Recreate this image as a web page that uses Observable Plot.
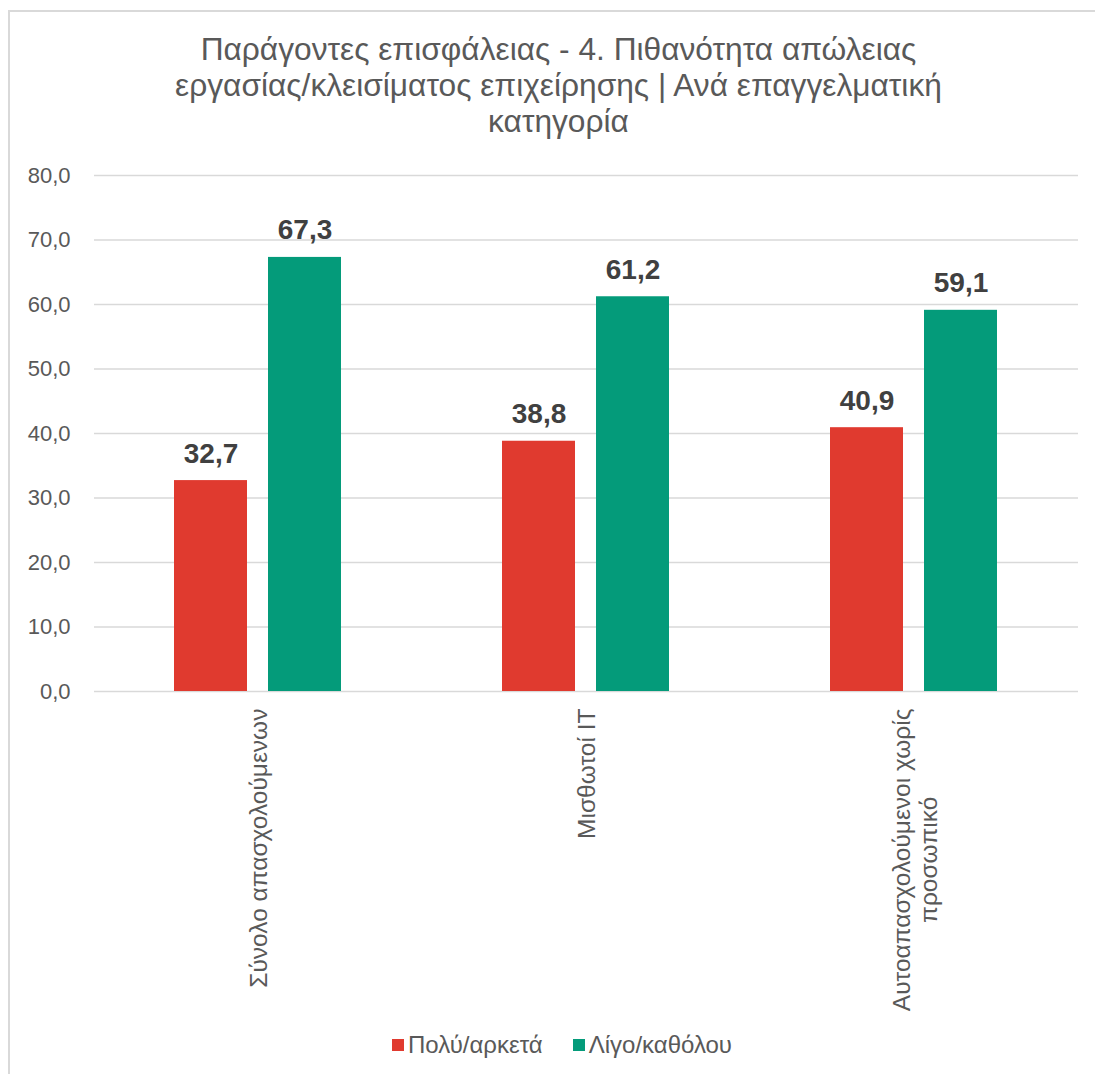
<!DOCTYPE html>
<html>
<head>
<meta charset="utf-8">
<script src="https://cdn.jsdelivr.net/npm/d3@7"></script>
<script src="https://cdn.jsdelivr.net/npm/@observablehq/plot@0.6"></script>
<style>
  html, body { margin: 0; padding: 0; background: #fff; }
  body { width: 1095px; height: 1074px; position: relative; overflow: hidden;
         font-family: "Liberation Sans", Arial, sans-serif; }
  #frame { position: absolute; left: 8px; top: 10px; width: 1200px; height: 1200px;
           border-left: 2px solid #d9d9d9; border-top: 2px solid #d9d9d9; }
  #title { position: absolute; left: 0; top: 31px; width: 1095px; box-sizing: border-box;
           padding-left: 22px; text-align: center; font-size: 31.7px; line-height: 36px; color: #595959; }
  #chart { position: absolute; left: 0; top: 155px; }
  #legend { position: absolute; left: 392px; top: 1032px; height: 26px; display: flex; align-items: center;
            font-size: 24px; color: #595959; }
  #legend .item { display: flex; align-items: center; margin-right: 30px; }
  #legend .sw { width: 12px; height: 12px; margin-right: 4px; }
</style>
</head>
<body>
<div id="frame"></div>
<div id="title">Παράγοντες επισφάλειας - 4. Πιθανότητα απώλειας<br>εργασίας/κλεισίματος επιχείρησης | Ανά επαγγελματική<br>κατηγορία</div>
<div id="chart"></div>
<div id="legend"></div>
<script>
const categories = ["Σύνολο απασχολούμενων", "Μισθωτοί ΙΤ", "Αυτοαπασχολούμενοι χωρίς προσωπικό"];
const categoryLabels = ["Σύνολο απασχολούμενων", "Μισθωτοί ΙΤ", "Αυτοαπασχολούμενοι χωρίς\nπροσωπικό"];
const seriesNames = ["Πολύ/αρκετά", "Λίγο/καθόλου"];
const polyArketa = [32.7, 38.8, 40.9];
const ligoKatholou = [67.3, 61.2, 59.1];
const yTicks = [0, 10, 20, 30, 40, 50, 60, 70, 80];
const seriesColors = ["#e03a2f", "#049b7a"];

const data = [];
categories.forEach((c, i) => {
  data.push({category: c, series: seriesNames[0], value: polyArketa[i]});
  data.push({category: c, series: seriesNames[1], value: ligoKatholou[i]});
});
const labelMap = new Map(categories.map((c, i) => [c, categoryLabels[i]]));
const fmt = v => v.toFixed(1).replace(".", ",");

const chart = Plot.plot({
  width: 1095,
  height: 865,
  marginTop: 20,
  marginLeft: 93,
  marginRight: 16,
  marginBottom: 329,
  style: {fontFamily: "'Liberation Sans', Arial, sans-serif", fontSize: "22px", color: "#595959", background: "transparent"},
  fx: {domain: categories, padding: 0, label: null},
  x: {domain: seriesNames, paddingInner: 0.223, paddingOuter: 0.856, axis: null},
  y: {domain: [0, 80], label: null},
  color: {domain: seriesNames, range: seriesColors},
  marks: [
    Plot.ruleY(yTicks, {stroke: "#d9d9d9", strokeWidth: 1.3}),
    Plot.axisY({ticks: yTicks, tickSize: 0, tickPadding: 24, tickFormat: fmt, fontSize: 22, fill: "#595959", label: null}),
    Plot.axisFx({anchor: "bottom", tickSize: 0, tickPadding: 17, rotate: -90, textAnchor: "end", lineAnchor: "middle",
                 tickFormat: d => labelMap.get(d), fontSize: 24.5, fill: "#595959", label: null, lineHeight: 1.1}),
    Plot.barY(data, {fx: "category", x: "series", y: "value", fill: "series"}),
    Plot.text(data, {fx: "category", x: "series", y: "value", text: d => fmt(d.value), dy: -27,
                     fontWeight: "bold", fontSize: 28, fill: "#404040"})
  ]
});
document.getElementById("chart").appendChild(chart);

// center wrapped second line of a category label on its first line
chart.querySelectorAll('g[aria-label="fx-axis tick label"] text').forEach(t => {
  const spans = t.querySelectorAll("tspan");
  if (spans.length > 1) {
    const L = spans[0].getComputedTextLength();
    for (let k = 1; k < spans.length; k++) {
      spans[k].setAttribute("x", -L / 2);
      spans[k].setAttribute("text-anchor", "middle");
    }
  }
});

const legend = document.getElementById("legend");
seriesNames.forEach((s, i) => {
  const item = document.createElement("div");
  item.className = "item";
  const sw = document.createElement("div");
  sw.className = "sw";
  sw.style.background = seriesColors[i];
  const lab = document.createElement("span");
  lab.textContent = s;
  item.appendChild(sw);
  item.appendChild(lab);
  legend.appendChild(item);
});
</script>
</body>
</html>
